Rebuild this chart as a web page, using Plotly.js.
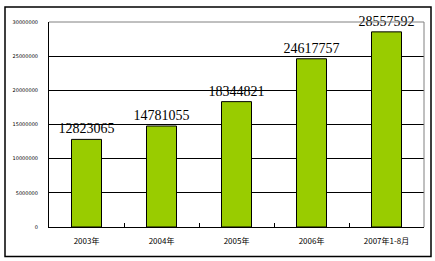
<!DOCTYPE html>
<html>
<head>
<meta charset="utf-8">
<script src="https://cdn.plot.ly/plotly-3.0.1.min.js"></script>
<style>
html,body{margin:0;padding:0;background:#fff;}
#chart{width:435px;height:261px;}
</style>
</head>
<body>
<div id="chart"></div>
<script>
const categories = ["2003年", "2004年", "2005年", "2006年", "2007年1-8月"];
const values = [12823065, 14781055, 18344821, 24617757, 28557592];
const yTickValues = [0, 5000000, 10000000, 15000000, 20000000, 25000000, 30000000];

const trace = {
  type: "bar",
  x: categories,
  y: values,
  text: values.map(v => String(v)),
  textposition: "outside",
  constraintext: "none",
  cliponaxis: false,
  textfont: {family: "Liberation Serif, serif", size: 14, color: "#000"},
  marker: {color: "#99CC00", line: {color: "#000", width: 1}},
  width: 0.4,
  hoverinfo: "none"
};

const L = 49, R = 11, T = 22, B = 34;
const pw = 435 - L - R, ph = 261 - T - B;

const layout = {
  width: 435, height: 261,
  margin: {l: L, r: R, t: T, b: B, pad: 0},
  paper_bgcolor: "#fff", plot_bgcolor: "#fff",
  showlegend: false,
  bargap: 0.6,
  xaxis: {
    type: "category",
    showline: true, linecolor: "#000", linewidth: 1,
    ticks: "inside", tickson: "boundaries", ticklen: 4, tickcolor: "#000",
    showgrid: false,
    tickfont: {family: "Noto Sans CJK SC", size: 8, color: "#000"},
    ticklabelstandoff: 6
  },
  yaxis: {
    range: [0, 30000000],
    tickvals: yTickValues,
    ticktext: yTickValues.map(v => String(v)),
    showline: true, linecolor: "#000", linewidth: 1,
    showgrid: true, gridcolor: "#000", gridwidth: 1,
    zeroline: false,
    ticks: "",
    tickfont: {family: "DejaVu Sans", size: 5, color: "#000"},
    ticklabelstandoff: 9
  },
  shapes: [
    {type: "line", xref: "paper", yref: "paper", x0: 0, x1: 1, y0: 1, y1: 1,
     line: {color: "#808080", width: 1}, layer: "above"},
    {type: "line", xref: "paper", yref: "paper", x0: 1, x1: 1, y0: 0, y1: 1,
     line: {color: "#808080", width: 1}, layer: "above"},
    {type: "rect", xref: "paper", yref: "paper",
     x0: (5 - L) / pw, x1: (431 - L) / pw,
     y0: (T + ph - 256.5) / ph, y1: (T + ph - 7) / ph,
     line: {color: "#000", width: 1.5}, fillcolor: "rgba(0,0,0,0)", layer: "above"}
  ]
};

Plotly.newPlot("chart", [trace], layout, {staticPlot: true, displayModeBar: false});
</script>
</body>
</html>
